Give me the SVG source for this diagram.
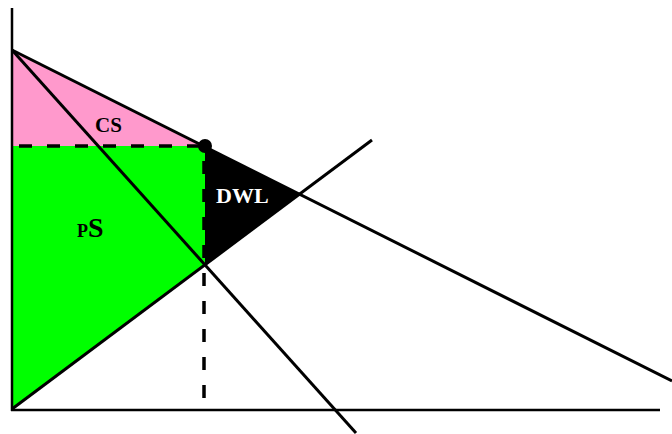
<svg xmlns="http://www.w3.org/2000/svg" width="672" height="434" viewBox="0 0 672 434">
<style>
.ln{stroke:#000;stroke-width:3;fill:none;stroke-linecap:butt}
.ax{stroke:#000;stroke-width:2.5;fill:none}
.dash{stroke:#000;stroke-width:3.5;fill:none;stroke-dasharray:13 15}
.lbl{font-family:"Liberation Serif",serif;font-weight:bold}
</style>
<rect width="672" height="434" fill="#fff"/>
<g id="areas">
<polygon id="cs" points="12,50 205,146 12,146" fill="#FF99CC"/>
<polygon id="ps" points="12,146 205,146 205,264 12,410" fill="#00FF00"/>
<polygon id="dwl" points="205,146 299,194 205,264" fill="#000"/>
</g>
<g id="connectors">
<line class="ax" x1="12" y1="8" x2="12" y2="411"/>
<line class="ax" x1="11" y1="410" x2="660" y2="410"/>
<line class="ln" x1="12" y1="50" x2="672" y2="381"/>
<line class="ln" x1="12" y1="50" x2="356" y2="433"/>
<line class="ln" x1="12" y1="409" x2="372" y2="140"/>
<line class="dash" x1="19" y1="146" x2="205" y2="146"/>
<line class="dash" x1="204" y1="161" x2="204" y2="410"/>
<circle cx="205" cy="146" r="7" fill="#000"/>
</g>
<g id="labels">
<text class="lbl" x="95" y="132" font-size="21" fill="#000">CS</text>
<text class="lbl" x="216" y="203" font-size="22" fill="#fff">DWL</text>
<text class="lbl" x="77" y="237" fill="#000"><tspan font-size="18">P</tspan><tspan font-size="28">S</tspan></text>
</g>
</svg>
